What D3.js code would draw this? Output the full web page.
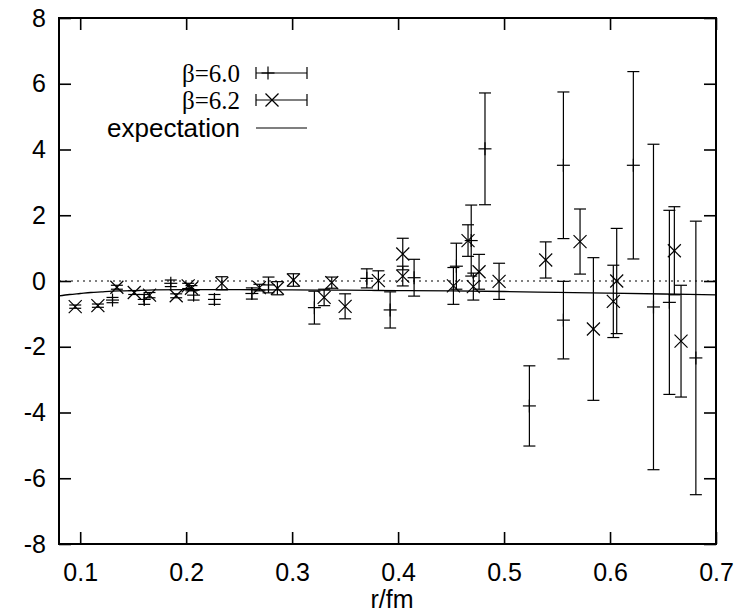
<!DOCTYPE html>
<html><head><meta charset="utf-8">
<script src="https://cdn.jsdelivr.net/npm/d3@7"></script>
<style>body{margin:0;background:#fff}svg{display:block}</style>
</head><body>
<svg id="c" width="740" height="615"></svg>
<script>
// beta = 6.0 (plus markers)
const b60X = [0.1305,0.1604,0.1855,0.207,0.2267,0.262,0.2777,0.321,0.3705,0.3925,0.4151,0.455,0.469,0.482,0.5239,0.556,0.556,0.622,0.641,0.656,0.681];
const b60Y = [-0.58,-0.56,-0.07,-0.43,-0.56,-0.38,-0.12,-0.81,0.08,-0.88,0.10,0.45,1.23,4.02,-3.80,3.52,-1.19,3.52,-0.79,-0.65,-2.34];
const b60E = [0.08,0.15,0.10,0.15,0.15,0.17,0.24,0.50,0.29,0.55,0.56,0.70,1.08,1.70,1.22,2.23,1.18,2.85,4.95,2.80,4.16];
// beta = 6.2 (cross markers)
const b62X = [0.0953,0.1167,0.1346,0.151,0.1654,0.1906,0.2019,0.205,0.2337,0.2691,0.2861,0.3012,0.3302,0.3374,0.350,0.3814,0.4044,0.4044,0.4522,0.466,0.471,0.4764,0.4953,0.5393,0.5717,0.5843,0.6031,0.6063,0.6607,0.667];
const b62Y = [-0.78,-0.75,-0.19,-0.35,-0.43,-0.45,-0.15,-0.22,-0.07,-0.20,-0.22,0.03,-0.50,-0.05,-0.77,0.01,0.82,0.15,-0.15,1.23,-0.17,0.28,-0.01,0.64,1.20,-1.46,-0.62,0.00,0.92,-1.83];
const b62E = [0.05,0.05,0.06,0.06,0.08,0.06,0.08,0.08,0.20,0.10,0.20,0.19,0.25,0.17,0.38,0.30,0.48,0.30,0.56,0.48,0.41,0.53,0.55,0.55,0.99,2.17,1.10,1.60,1.34,1.70];
// expectation curve
const expX = [0.08,0.09,0.10,0.11,0.12,0.13,0.14,0.15,0.17,0.20,0.25,0.30,0.35,0.40,0.45,0.50,0.55,0.60,0.65,0.70];
const expY = [-0.45,-0.41,-0.38,-0.35,-0.33,-0.31,-0.30,-0.29,-0.27,-0.26,-0.265,-0.27,-0.28,-0.29,-0.30,-0.32,-0.345,-0.37,-0.395,-0.42];
const xTicks = [0.1,0.2,0.3,0.4,0.5,0.6,0.7];
const yTicks = [-8,-6,-4,-2,0,2,4,6,8];
const legendLabels = ["β=6.0","β=6.2","expectation"];

const L=59,R=716,T=18,B=544;
const svg=d3.select("#c");
const x=d3.scaleLinear().domain([0.08,0.7]).range([L,R]);
const y=d3.scaleLinear().domain([-8,8]).range([B,T]);
const font="'Liberation Sans',Arial,Helvetica,sans-serif";
const serif="'Liberation Serif','Times New Roman',serif";

// zero axis dotted
svg.append("line").attr("x1",L).attr("x2",R).attr("y1",y(0)).attr("y2",y(0))
  .attr("stroke","#000").attr("stroke-width",1).attr("stroke-dasharray","2,4");

function styleAxis(g,labels){
  g.select(".domain").remove();
  g.selectAll(".tick line").attr("stroke","#000").attr("stroke-width",1.6);
  if(labels) g.selectAll(".tick text").attr("font-family",font).attr("font-size",25).attr("fill","#000");
  else g.selectAll(".tick text").remove();
}
svg.append("g").attr("transform",`translate(0,${B})`)
  .call(d3.axisBottom(x).tickValues(xTicks).tickFormat(d=>d.toFixed(1)).tickSizeInner(-12).tickSizeOuter(0).tickPadding(19))
  .call(g=>styleAxis(g,true));
svg.append("g").attr("transform",`translate(0,${T})`)
  .call(d3.axisTop(x).tickValues(xTicks).tickSizeInner(-12).tickSizeOuter(0))
  .call(g=>styleAxis(g,false));
svg.append("g").attr("transform",`translate(${L},0)`)
  .call(d3.axisLeft(y).tickValues(yTicks).tickFormat(d=>String(d)).tickSizeInner(-12).tickSizeOuter(0).tickPadding(13))
  .call(g=>styleAxis(g,true));
svg.append("g").attr("transform",`translate(${R},0)`)
  .call(d3.axisRight(y).tickValues(yTicks).tickSizeInner(-12).tickSizeOuter(0))
  .call(g=>styleAxis(g,false));

// frame
svg.append("rect").attr("x",L).attr("y",T).attr("width",R-L).attr("height",B-T)
  .attr("fill","none").attr("stroke","#000").attr("stroke-width",2);

// expectation line
svg.append("path").datum(expX.map((v,i)=>[v,expY[i]]))
  .attr("d",d3.line().x(d=>x(d[0])).y(d=>y(d[1])).curve(d3.curveMonotoneX))
  .attr("fill","none").attr("stroke","#000").attr("stroke-width",1.3);

const cap=6, ms=6.5;
function errbars(X,Y,E,marker){
  const g=svg.append("g").attr("stroke","#000").attr("stroke-width",1.2).attr("fill","none");
  X.forEach((xv,i)=>{
    const cx=x(xv), y1=y(Y[i]+E[i]), y0=y(Y[i]-E[i]), cy=y(Y[i]);
    g.append("line").attr("x1",cx).attr("x2",cx).attr("y1",y1).attr("y2",y0);
    g.append("line").attr("x1",cx-cap).attr("x2",cx+cap).attr("y1",y1).attr("y2",y1);
    g.append("line").attr("x1",cx-cap).attr("x2",cx+cap).attr("y1",y0).attr("y2",y0);
    marker(g,cx,cy);
  });
}
const plus=(g,cx,cy)=>{
  g.append("line").attr("x1",cx-ms).attr("x2",cx+ms).attr("y1",cy).attr("y2",cy);
  g.append("line").attr("x1",cx).attr("x2",cx).attr("y1",cy-ms).attr("y2",cy+ms);
};
const cross=(g,cx,cy)=>{
  g.append("line").attr("x1",cx-ms).attr("x2",cx+ms).attr("y1",cy-ms).attr("y2",cy+ms);
  g.append("line").attr("x1",cx-ms).attr("x2",cx+ms).attr("y1",cy+ms).attr("y2",cy-ms);
};
errbars(b60X,b60Y,b60E,plus);
errbars(b62X,b62Y,b62E,cross);

// legend
const legY=[73,100,128];
const lg=svg.append("g");
legendLabels.forEach((t,i)=>{
  lg.append("text").attr("x",240).attr("y",legY[i]).attr("dy","0.35em").attr("text-anchor","end")
    .attr("font-family", i<2 ? serif : font)
    .attr("font-size",i<2?25:26).text(t);
  const gy=legY[i];
  lg.append("line").attr("x1",256).attr("x2",307).attr("y1",gy).attr("y2",gy).attr("stroke","#000").attr("stroke-width",1.2);
  if(i<2){
    [256,307].forEach(cx=>lg.append("line").attr("x1",cx).attr("x2",cx).attr("y1",gy-cap).attr("y2",gy+cap).attr("stroke","#000").attr("stroke-width",1.2));
    (i===0?plus:cross)(lg.append("g").attr("stroke","#000").attr("stroke-width",1.2), i===0?268:272, gy);
  }
});

// axis label
svg.append("text").attr("x",392).attr("y",608).attr("text-anchor","middle")
  .attr("font-family",font).attr("font-size",25).text("r/fm");
</script>
</body></html>
